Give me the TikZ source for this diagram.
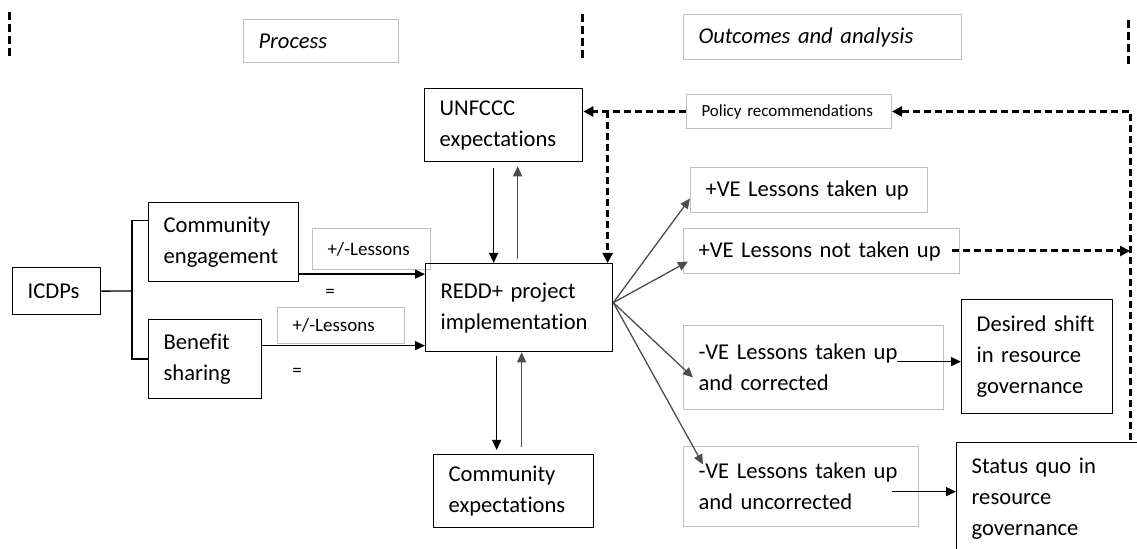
\documentclass[tikz,border=0pt]{standalone}
\usepackage{fontspec}
\setmainfont{Carlito}[Ligatures=NoCommon]
\usetikzlibrary{arrows.meta}
\hyphenpenalty=10000
\exhyphenpenalty=10000
\newcommand{\boxfont}{\fontsize{11.3}{15.5}\selectfont}
\newcommand{\lessonfont}{\fontsize{9.5}{12}\selectfont}
\newcommand{\policyfont}{\fontsize{8.5}{10}\selectfont}

\begin{document}
\begin{tikzpicture}[x=0.5pt, y=-0.5pt,
  bx/.style 2 args={minimum width=#1, minimum height=#2, text width=#1-15pt},
  blackbox/.style={draw, line width=0.65pt, anchor=north west, align=left,
    inner xsep=7.5pt, inner ysep=0pt, font=\boxfont},
  greybox/.style={draw=black!25, line width=0.5pt, anchor=north west, align=left,
    inner xsep=7.5pt, inner ysep=0pt, font=\boxfont},
  arr/.style={line width=0.65pt, -{Triangle[length=5pt,width=4.5pt]}},
  fan/.style={arr, draw=black!70},
  dasharr/.style={line width=1.5pt, dash pattern=on 3.5pt off 2pt,
    -{Triangle[length=5pt,width=5pt]}},
  sep/.style={line width=1.5pt, dash pattern=on 4pt off 2pt}]

\useasboundingbox (0,0) rectangle (1137,549);

\draw[sep] (9,12) -- (9,58);
\draw[sep] (582,14) -- (582,59);
\draw[sep] (1128,20) -- (1128,67);

\node[greybox, bx={77.5pt}{21.5pt}, font=\boxfont\itshape] (process) at (243,19) {Process};
\node[greybox, bx={139pt}{22.5pt}, font=\boxfont\itshape] (outcomes) at (683,14) {Outcomes and analysis};
\node[greybox, bx={102.5pt}{17pt}, font=\policyfont] (policy) at (686,94) {Policy recommendations};

\node[blackbox, bx={44pt}{23.5pt}] (icdps) at (12,267) {ICDPs};
\node[blackbox, bx={75pt}{39.5pt}] (engage) at (148,202) {Community\\engagement};
\node[blackbox, bx={56.5pt}{39.5pt}] (benefit) at (148,319) {Benefit\\sharing};
\node[greybox, bx={59pt}{20.5pt}, font=\lessonfont] (lessonsa) at (312,228) {+/-Lessons};
\node[greybox, bx={63.5pt}{18pt}, font=\lessonfont] (lessonsb) at (277,307) {+/-Lessons};
\node[font=\lessonfont] (eqa) at (330,293) {=};
\node[font=\lessonfont] (eqb) at (297,372) {=};

\node[blackbox, bx={79pt}{36.5pt}] (unfccc) at (424,88) {UNFCCC\\expectations};
\node[blackbox, bx={93.5pt}{44pt}] (redd) at (425,263) {REDD+ project\\implementation};
\node[blackbox, bx={80pt}{36.5pt}] (commexp) at (433,454) {Community\\expectations};

\node[greybox, bx={118.5pt}{22.5pt}] (postaken) at (690,167) {+VE Lessons taken up};
\node[greybox, bx={138pt}{22.5pt}] (posnot) at (683,228) {\mbox{+VE Lessons not taken up}};
\node[greybox, bx={130pt}{42pt}] (negcor) at (683,325) {-VE Lessons taken up\\and corrected};
\node[greybox, bx={117.5pt}{40pt}] (neguncor) at (683,446) {\mbox{-VE Lessons taken up}\\and uncorrected};
\node[blackbox, bx={75.5pt}{57pt}] (desired) at (961,299) {Desired shift\\in resource\\governance};
\node[blackbox, bx={94.5pt}{56.5pt}] (statusquo) at (956,442) {Status quo in\\resource\\governance};

\coordinate (fork) at (132,291);
\draw[line width=0.65pt] (icdps.east) -- (fork);
\draw[line width=0.65pt] (fork) |- ([yshift=10.75pt]engage.west);
\draw[line width=0.65pt] (fork) |- (benefit.west);
\draw[arr] ([yshift=-16pt]engage.east) -- ([yshift=-16pt]engage.east -| redd.west);
\draw[arr] ([yshift=6.75pt]benefit.east) -- ([yshift=6.75pt]benefit.east -| redd.west);

\draw[arr] ([xshift=-5pt,yshift=-3pt]unfccc.south) -- ([xshift=-5pt]unfccc.south |- redd.north);
\draw[fan] ([xshift=7pt,yshift=2pt]unfccc.south |- redd.north) -- ([xshift=7pt,yshift=-2pt]unfccc.south);
\draw[arr] ([xshift=-11.25pt,yshift=-2pt]redd.south) -- ([xshift=-11.25pt,yshift=2pt]redd.south |- commexp.north);
\draw[fan] ([xshift=1.25pt,yshift=3.5pt]redd.south |- commexp.north) -- ([xshift=1.25pt]redd.south);

\coordinate (rfan) at ([yshift=2.5pt]redd.east);
\draw[fan] (rfan) -- ([yshift=-4.25pt]postaken.west);
\draw[fan] (rfan) -- ([xshift=2.5pt,yshift=-5.25pt]posnot.west);
\draw[fan] (rfan) -- ([xshift=5pt,yshift=-5pt]negcor.west);
\draw[fan] (rfan) -- ([xshift=10pt,yshift=11pt]neguncor.west);

\draw[arr] ([xshift=-23.5pt,yshift=-2.5pt]desired.west -| negcor.east) -- ([yshift=-2.5pt]desired.west);
\draw[arr] ([xshift=-13.5pt,yshift=3.75pt]statusquo.west -| neguncor.east) -- ([yshift=3.75pt]statusquo.west);

\draw[dasharr] (policy.west) -- (policy.west -| unfccc.east);
\draw[dasharr] ([xshift=44.25pt]redd.north |- policy.west) -- ([xshift=44.25pt]redd.north);
\coordinate (qtop) at (policy.east -| 1130,0);
\coordinate (qbot) at (1130,440);
\draw[dasharr] (qbot) -- (qtop) -- (policy.east);
\draw[dasharr] ([xshift=-4pt]posnot.east) -- (posnot.east -| qtop);

\end{tikzpicture}
\end{document}
